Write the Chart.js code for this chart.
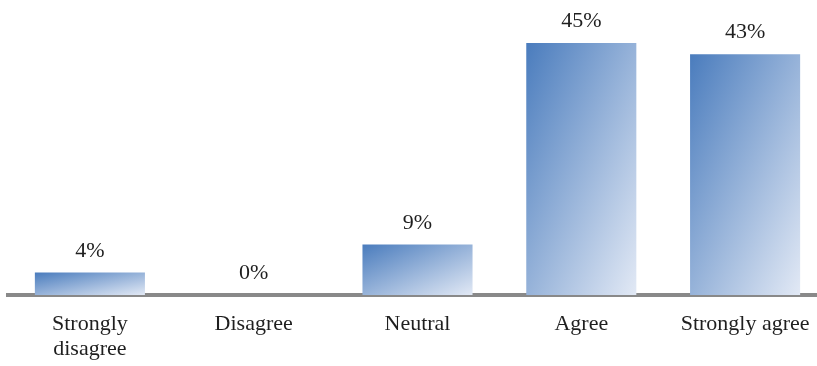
<!DOCTYPE html>
<html>
<head>
<meta charset="utf-8">
<script src="https://cdn.jsdelivr.net/npm/chart.js@4/dist/chart.umd.min.js"></script>
<style>
  html, body { margin: 0; padding: 0; background: #fff; overflow: hidden; }
  #wrap { width: 827px; height: 366px; position: relative; }
</style>
</head>
<body>
<div id="wrap"><canvas id="chart"></canvas></div>
<script>
// ── Data ──
const categories = [['Strongly', 'disagree'], 'Disagree', 'Neutral', 'Agree', 'Strongly agree'];
const percents = [4, 0, 9, 45, 43];

const FONT = '"Liberation Serif", "Times New Roman", serif';
const TEXT = '#1f1f1f';

// diagonal gradient per bar, isolines parallel to the bar's anti-diagonal
function barGradient(c, el) {
    const left = el.x - el.width / 2;
    const top = Math.min(el.y, el.base);
    const w = el.width;
    const h = Math.max(Math.abs(el.base - el.y), 1);
    const k = 2 * w * h / (w * w + h * h);
    const g = c.createLinearGradient(left, top, left + k * h, top + k * w);
    g.addColorStop(0, '#4a7cbd');
    g.addColorStop(1, '#e2e9f5');
    return g;
}

// give every bar its own options object so each gets its own gradient
const gradientFill = {
    id: 'gradientFill',
    beforeDatasetDraw(chart, args) {
        args.meta.data.forEach(bar => {
            bar.options = Object.assign({}, bar.options, {
                backgroundColor: barGradient(chart.ctx, bar)
            });
        });
    }
};

// ── Value labels above bars ──
const valueLabels = {
    id: 'valueLabels',
    afterDatasetsDraw(chart) {
        const ctx = chart.ctx;
        const meta = chart.getDatasetMeta(0);
        ctx.save();
        ctx.font = '22px ' + FONT;
        ctx.fillStyle = TEXT;
        ctx.textAlign = 'center';
        ctx.textBaseline = 'alphabetic';
        meta.data.forEach((bar, i) => {
            ctx.fillText(percents[i] + '%', bar.x, bar.y - 16);
        });
        ctx.restore();
    }
};

new Chart(document.getElementById('chart'), {
    type: 'bar',
    data: {
        labels: categories,
        datasets: [{
            data: percents,
            backgroundColor: '#7fa0d0',
            borderWidth: 0,
            barPercentage: 0.672,
            categoryPercentage: 1
        }]
    },
    options: {
        responsive: true,
        maintainAspectRatio: false,
        animation: false,
        layout: { padding: { left: 8, right: 0, top: 15, bottom: 4 } },
        scales: {
            x: {
                z: 1,
                grid: { display: false },
                border: { display: true, color: '#898989', width: 4 },
                ticks: {
                    color: TEXT,
                    padding: 9,
                    font: { family: FONT, size: 22, lineHeight: 1.12 }
                },
                afterFit(scale) { scale.height = 67; }
            },
            y: {
                display: false,
                min: 0,
                max: 50
            }
        },
        plugins: {
            legend: { display: false },
            tooltip: { enabled: false }
        }
    },
    plugins: [gradientFill, valueLabels]
});
</script>
</body>
</html>
